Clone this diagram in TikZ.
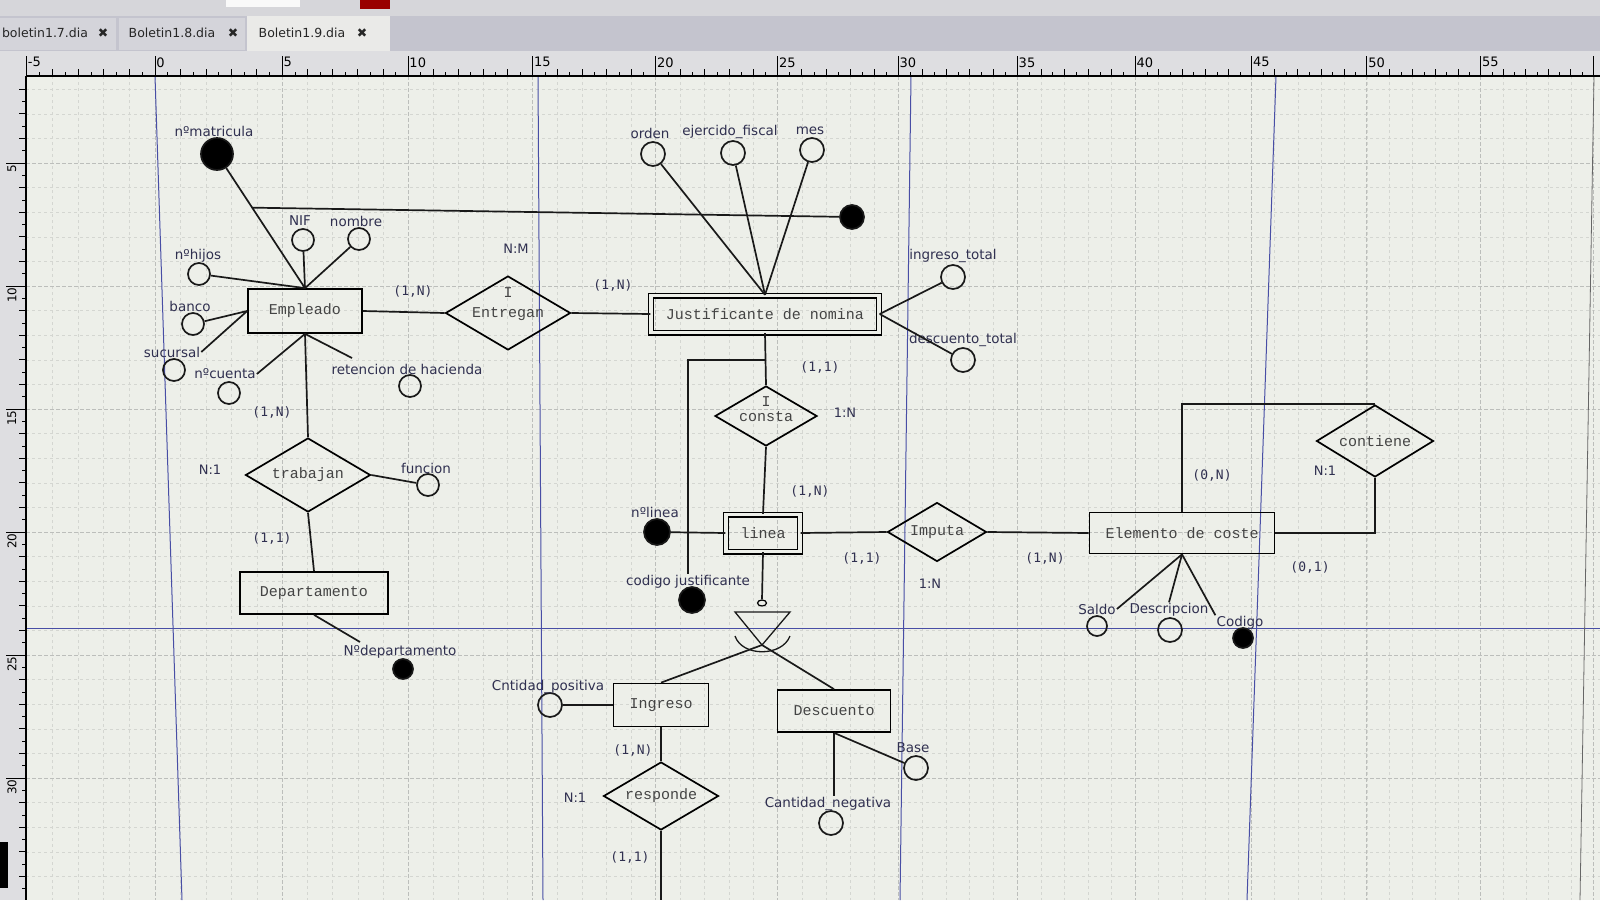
\documentclass[tikz,border=0pt]{standalone}
\usepackage{fontspec}
\setmainfont{DejaVu Sans}
\newfontfamily\erfont{Liberation Mono}
\newfontfamily\cardfont{DejaVu Sans Mono}
\usetikzlibrary{shapes.geometric, positioning, calc}

\definecolor{canvasbg}{RGB}{237,239,233}
\definecolor{gridlight}{RGB}{212,214,209}
\definecolor{griddark}{RGB}{188,190,187}
\definecolor{pageblue}{RGB}{72,78,165}
\definecolor{topbar}{RGB}{214,214,218}
\definecolor{tabbar}{RGB}{196,196,206}
\definecolor{tabidle}{RGB}{212,212,218}
\definecolor{tabactive}{RGB}{234,234,232}
\definecolor{rulerbg}{RGB}{222,222,225}
\definecolor{attink}{RGB}{48,48,80}
\definecolor{erink}{RGB}{68,68,68}

\tikzset{
    entity/.style={rectangle, draw=black, line width=1.7pt, text=erink, font=\erfont\fontsize{15}{15}\selectfont, inner sep=0pt},
    weakentity/.style={entity, double=canvasbg, double distance=3.2pt, line width=1.4pt},
    relation/.style={diamond, draw=black, line width=1.7pt, inner sep=0pt},
    reltext/.style={text=erink, font=\erfont\fontsize{15}{15}\selectfont, inner sep=0pt},
    attrib/.style={circle, draw=black!90, line width=1.7pt, minimum size=22pt, inner sep=0pt},
    keyattrib/.style={attrib, fill=black},
    attlabel/.style={text=attink, font=\fontsize{13.5}{14}\selectfont, inner sep=1pt},
    card/.style={text=attink, font=\cardfont\fontsize{13}{14}\selectfont},
    ratio/.style={text=attink, font=\fontsize{13}{14}\selectfont},
    link/.style={line width=1.7pt, black!90},
    gridminor/.style={gridlight, line width=0.6pt, dash pattern=on 3pt off 3pt},
    gridmajor/.style={griddark, line width=0.8pt, dash pattern=on 4pt off 2pt},
    pageline/.style={pageblue, line width=1pt},
    tabtext/.style={text=black!85, font=\fontsize{12.5}{13}\selectfont}
}

\begin{document}
\begin{tikzpicture}[x=1pt, y=-1pt]
    \useasboundingbox (0,0) rectangle (1600,900);

    % Canvas and grid
    \fill[canvasbg] (0,0) rectangle (1600,900);
    \foreach \u in {-6,...,60}
        \draw[gridminor] ({155+25.57*\u-0.02667*\u*\u},76) -- ++(0,824);
    \foreach \v in {2,...,36}
        \draw[gridminor] (26,{40+24.6*\v}) -- ++(1574,0);
    \foreach \u in {-5,0,...,60}
        \draw[gridmajor] ({155+25.57*\u-0.02667*\u*\u},76) -- ++(0,824);
    \foreach \v in {5,10,...,35}
        \draw[gridmajor] (26,{40+24.6*\v}) -- ++(1574,0);

    % Page breaks
    \draw[pageline] (155,76) -- (182,900);
    \draw[pageline] (538,76) -- (543,900);
    \draw[pageline] (911,76) -- (900,900);
    \draw[pageline] (1276,76) -- (1247,900);
    \draw[pageline] (26,628) -- (1600,628);
    \draw[black!60, line width=0.8pt] (1594,76) -- (1580,900);

    % Window top, tabs
    \fill[topbar] (0,0) rectangle (1600,16);
    \fill[white!85!topbar] (226,0) rectangle (300,7);
    \fill[red!60!black] (360,0) rectangle (390,9);
    \fill[tabbar] (0,16) rectangle (1600,51);
    \fill[tabidle] (0,18) rectangle (116,50);
    \fill[tabidle] (119,18) rectangle (245,50);
    \fill[tabactive] (247,16) rectangle (390,51);
    \node[tabtext] (tab1) at (45,33) {boletin1.7.dia};
    \node[tabtext] (tab2) at (172,33) {Boletin1.8.dia};
    \node[tabtext] (tab3) at (302,33) {Boletin1.9.dia};
    \node[tabtext] (tabx1) at (103,33) {✖};
    \node[tabtext] (tabx2) at (233,33) {✖};
    \node[tabtext] (tabx3) at (362,33) {✖};

    % Rulers
    \fill[rulerbg] (0,51) rectangle (1600,76);
    \fill[rulerbg] (0,76) rectangle (26,900);
    \draw[line width=1.2pt] (26,76) -- (1600,76);
    \draw[line width=1.2pt] (26,76) -- (26,900);
    \foreach \u in {-5,...,59} {
        \draw[line width=0.8pt] ({155+25.57*\u-0.02667*\u*\u},76) -- ++(0,-7);
        \draw[line width=0.6pt] ({155+25.57*(\u+0.5)-0.02667*(\u+0.5)*(\u+0.5)},76) -- ++(0,-4);
    }
    \foreach \u in {-5,0,...,55}
        \draw[line width=0.9pt] ({155+25.57*\u-0.02667*\u*\u},76) -- ++(0,-20)
            node[anchor=north west, inner sep=1pt, font=\fontsize{13}{13}\selectfont] {\u};
    \draw[line width=0.9pt] (1593,76) -- ++(0,-20);
    \foreach \v in {2,...,35} {
        \draw[line width=0.8pt] (26,{40+24.6*\v}) -- ++(-7,0);
        \draw[line width=0.6pt] (26,{52.3+24.6*\v}) -- ++(-4,0);
    }
    \foreach \v in {5,10,...,30}
        \draw[line width=0.9pt] (26,{40+24.6*\v}) -- ++(-20,0)
            node[anchor=north east, rotate=90, inner sep=1pt, font=\fontsize{12}{12}\selectfont] {\v};
    \fill[black] (0,842) rectangle (8,888);

    % Entities
    \node[entity, minimum width=114pt, minimum height=44pt] (emp) at (305,311) {Empleado};
    \node[weakentity, minimum width=228pt, minimum height=37pt] (just) at (765,314) {Justificante de nomina};
    \node[entity, minimum width=148pt, minimum height=42pt] (dep) at (314,593) {Departamento};
    \node[weakentity, minimum width=74pt, minimum height=37pt] (linea) at (763,533) {linea};
    \node[entity, minimum width=185pt, minimum height=41pt] (elem) at (1182,533) {Elemento de coste};
    \node[entity, minimum width=95pt, minimum height=43pt] (ingreso) at (661,705) {Ingreso};
    \node[entity, minimum width=113pt, minimum height=42pt] (descuento) at (834,711) {Descuento};

    % Relationships
    \node[relation, minimum width=125pt, minimum height=74pt,
          label={[reltext, yshift=20pt]center:I}, label={[reltext, yshift=-1pt]center:Entregan}] (entregan) at (508,313) {};
    \node[relation, minimum width=125pt, minimum height=74pt,
          label={[reltext]center:trabajan}] (trabajan) at (308,475) {};
    \node[relation, minimum width=102pt, minimum height=60pt,
          label={[reltext, yshift=14pt]center:I}, label={[reltext, yshift=-1pt]center:consta}] (consta) at (766,416) {};
    \node[relation, minimum width=99pt, minimum height=59pt,
          label={[reltext]center:Imputa}] (imputa) at (937,532) {};
    \node[relation, minimum width=117pt, minimum height=72pt,
          label={[reltext]center:contiene}] (contiene) at (1375,441) {};
    \node[relation, minimum width=115pt, minimum height=68pt,
          label={[reltext]center:responde}] (responde) at (661,796) {};

    % Attributes of Empleado
    \node[keyattrib, minimum size=32pt] (nmat) at (217,154) {};
    \node[attlabel] (lnmat) at (214,131) {nºmatricula};
    \node[attrib] (nif) at (303,240) {};
    \node[attlabel] (lnif) at (300,221) {NIF};
    \node[attrib] (nombre) at (359,239) {};
    \node[attlabel] (lnombre) at (356,221) {nombre};
    \node[attrib] (nhijos) at (199,274) {};
    \node[attlabel] (lnhijos) at (198,256) {nºhijos};
    \node[attrib] (banco) at (193,324) {};
    \node[attlabel] (lbanco) at (190,306) {banco};
    \node[attrib] (sucursal) at (174,370) {};
    \node[attlabel] (lsucursal) at (172,352) {sucursal};
    \node[attrib] (ncuenta) at (229,393) {};
    \node[attlabel] (lncuenta) at (225,374) {nºcuenta};
    \node[attrib] (retencion) at (410,386) {};
    \node[attlabel] (lretencion) at (407,369) {retencion de hacienda};
    \coordinate (retend) at (352,358);

    % Attributes of trabajan and Departamento
    \node[attrib] (funcion) at (428,485) {};
    \node[attlabel] (lfuncion) at (426,468) {funcion};
    \node[keyattrib, minimum size=20pt] (ndep) at (403,669) {};
    \node[attlabel] (lndep) at (400,652) {Nºdepartamento};
    \coordinate (ndepend) at (360,642);

    % Attributes of Justificante de nomina
    \node[keyattrib, minimum size=24pt] (jkey) at (852,217) {};
    \node[attrib, minimum size=24pt] (orden) at (653,154) {};
    \node[attlabel] (lorden) at (650,133) {orden};
    \node[attrib, minimum size=24pt] (ejfiscal) at (733,153) {};
    \node[attlabel] (lejfiscal) at (730,132) {ejercido\_fiscal};
    \node[attrib, minimum size=24pt] (mes) at (812,150) {};
    \node[attlabel] (lmes) at (810,131) {mes};
    \node[attrib, minimum size=24pt] (ingtotal) at (953,277) {};
    \node[attlabel] (lingtotal) at (953,256) {ingreso\_total};
    \node[attrib, minimum size=24pt] (desctotal) at (963,360) {};
    \node[attlabel] (ldesctotal) at (963,340) {descuento\_total};

    % Attributes of linea
    \node[keyattrib, minimum size=26pt] (nlinea) at (657,532) {};
    \node[attlabel] (lnlinea) at (655,512) {nºlinea};
    \node[keyattrib, minimum size=26pt] (codjust) at (692,600) {};
    \node[attlabel] (lcodjust) at (688,582) {codigo justificante};
    \coordinate (jbranch) at (766,360);

    % Attributes of Elemento de coste
    \node[attrib, minimum size=20pt] (saldo) at (1097,626) {};
    \node[attlabel] (lsaldo) at (1097,609) {Saldo};
    \node[attrib, minimum size=24pt] (descripcion) at (1170,630) {};
    \node[attlabel] (ldescripcion) at (1169,610) {Descripcion};
    \node[keyattrib, minimum size=20pt] (codigo) at (1243,638) {};
    \node[attlabel] (lcodigo) at (1240,623) {Codigo};

    % Attributes of Ingreso and Descuento
    \node[attrib, minimum size=24pt] (cpos) at (550,705) {};
    \node[attlabel] (lcpos) at (548,687) {Cntidad\_positiva};
    \node[attrib, minimum size=24pt] (base) at (916,768) {};
    \node[attlabel] (lbase) at (913,748) {Base};
    \node[attrib, minimum size=24pt] (cneg) at (831,823) {};
    \node[attlabel] (lcneg) at (828,804) {Cantidad\_negativa};

    % ISA
    \node[draw, ellipse, line width=1.2pt, minimum width=9pt, minimum height=6pt, inner sep=0pt] (isaknob) at (762,603) {};
    \coordinate (isa) at (762,645);
    \coordinate (isaleft) at (735,612);
    \coordinate (isaright) at (790,612);
    \coordinate (respout) at (661,900);

    % Connections
    \coordinate (kjoin) at ($(nmat)!0.4!(emp.north)$);
    \draw[link] (nmat) -- (emp.north);
    \draw[link] (kjoin) -- (jkey);
    \draw[link] (nif) -- (emp.north);
    \draw[link] (nombre) -- (emp.north);
    \draw[link] (nhijos) -- (emp.north);
    \draw[link] (banco) -- (emp.west);
    \draw[link] (lsucursal.east) -- (emp.west);
    \draw[link] (lncuenta.east) -- (emp.south);
    \draw[link] (emp.south) -- (retend);

    \draw[link] (emp.east) -- (entregan.west);
    \draw[link] (entregan.east) -- (just.west);
    \draw[link] (emp.south) -- (trabajan.north);
    \draw[link] (trabajan.east) -- (funcion);
    \draw[link] (trabajan.south) -- (dep.north);
    \draw[link] (dep.south) -- (ndepend);

    \draw[link] (orden) -- (just.north);
    \draw[link] (ejfiscal) -- (just.north);
    \draw[link] (mes) -- (just.north);
    \draw[link] (just.east) -- (ingtotal);
    \draw[link] (just.east) -- (desctotal);
    \draw[link] (just.south) -- (consta.north);
    \draw[link] (jbranch) -| (lcodjust.north);
    \draw[link] (consta.south) -- (linea.north);
    \draw[link] (nlinea) -- (linea.west);

    \draw[link] (linea.east) -- (imputa.west);
    \draw[link] (imputa.east) -- (elem.west);
    \draw[link] (elem.north) |- (contiene.north);
    \draw[link] (contiene.south) |- (elem.east);
    \draw[link] (elem.south) -- (lsaldo.east);
    \draw[link] (elem.south) -- (ldescripcion.north);
    \draw[link] (elem.south) -- (lcodigo.north west);

    \draw[link] (linea.south) -- (isaknob.north);
    \draw[link, line width=1.3pt] (isaleft) -- (isaright) -- (isa) -- cycle;
    \draw[link, line width=1.3pt] (735,636) .. controls (742,657) and (782,657) .. (790,636);
    \draw[link] (isa) -- (ingreso.north);
    \draw[link] (isa) -- (descuento.north);
    \draw[link] (cpos) -- (ingreso.west);
    \draw[link] (ingreso.south) -- (responde.north);
    \draw[link] (responde.south) -- (respout);
    \draw[link] (descuento.south) -- (base);
    \draw[link] (descuento.south) -- (descuento.south |- lcneg.north);

    % Cardinalities
    \node[card] (c1) at (413,291) {(1,N)};
    \node[card] (c2) at (613,285) {(1,N)};
    \node[ratio] (r1) at (516,249) {N:M};
    \node[card] (c3) at (272,412) {(1,N)};
    \node[ratio] (r2) at (210,470) {N:1};
    \node[card] (c4) at (272,538) {(1,1)};
    \node[card] (c5) at (820,367) {(1,1)};
    \node[ratio] (r3) at (845,413) {1:N};
    \node[card] (c6) at (810,491) {(1,N)};
    \node[card] (c7) at (862,558) {(1,1)};
    \node[ratio] (r4) at (930,584) {1:N};
    \node[card] (c8) at (1045,558) {(1,N)};
    \node[card] (c9) at (1212,475) {(0,N)};
    \node[ratio] (r5) at (1325,471) {N:1};
    \node[card] (c10) at (1310,567) {(0,1)};
    \node[card] (c11) at (633,750) {(1,N)};
    \node[ratio] (r6) at (575,798) {N:1};
    \node[card] (c12) at (630,857) {(1,1)};
\end{tikzpicture}
\end{document}
